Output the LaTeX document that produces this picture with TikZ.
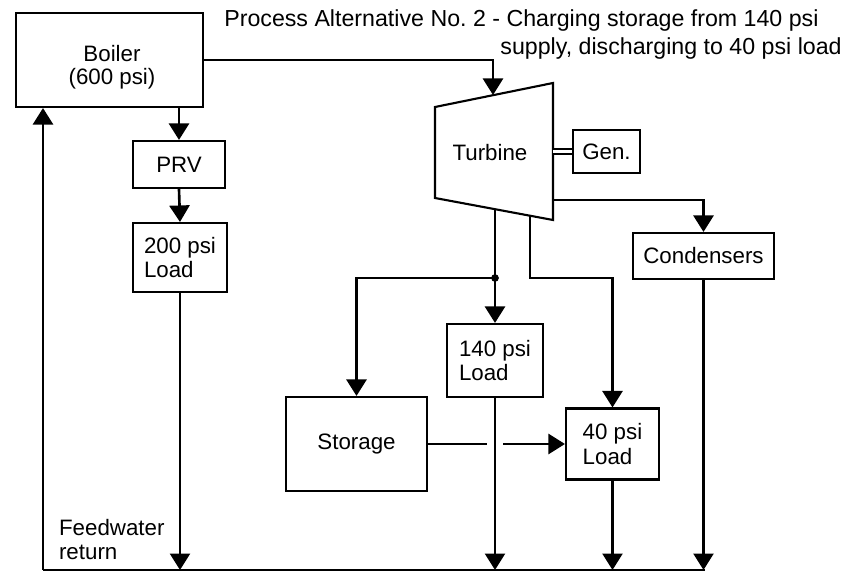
\documentclass[tikz,border=0pt]{standalone}
\usepackage{fontspec}
\setmainfont{Liberation Sans}
\usetikzlibrary{arrows.meta}

\begin{document}
\begin{tikzpicture}[x=0.02cm, y=-0.02cm, line width=1.5pt,
		box/.style={draw, line width=1.2pt, inner sep=0pt, align=left, font=\fontsize{12.7}{14}\selectfont},
		flow/.style={-{Triangle[length=0.33cm, width=0.4cm]}},
		lbl/.style={inner sep=0pt, font=\fontsize{13.2}{15}\selectfont}]
			
			\useasboundingbox (0,0) rectangle (850,574);
			
			% Title
			\node[lbl, anchor=base west] (title1) at (223,27) {Process Alternative No.\ 2 - Charging storage from 140 psi};
			\node[lbl, anchor=base east] (title2) at (843,55) {supply, discharging to 40 psi load};
			
			% Boxes
			\node[box, minimum width=3.74cm, minimum height=1.88cm] (boiler) at (109.5,60) {};
			\node[box, draw=none, align=center, font=\fontsize{12.7}{13}\selectfont] (boilertext) at (112,67) {Boiler\\(600 psi)};
			\node[box, minimum width=1.84cm, minimum height=0.94cm] (prv) at (179,164.5) {PRV};
			\node[box, minimum width=1.88cm, minimum height=1.38cm] (load200) at (180,257.5) {200 psi\\Load};
			\node[box, minimum width=1.34cm, minimum height=0.86cm] (gen) at (606.5,151.5) {Gen.};
			\node[box, minimum width=2.82cm, minimum height=0.92cm] (cond) at (703.5,256) {Condensers};
			\node[box, minimum width=1.92cm, minimum height=1.46cm] (load140) at (495,360.5) {140 psi\\Load};
			\node[box, minimum width=1.86cm, minimum height=1.42cm] (load40) at (612.5,444) {40 psi\\Load};
			\node[box, minimum width=2.82cm, minimum height=1.88cm] (storage) at (356.5,444) {Storage};
			
			% Turbine (trapezoid)
			\coordinate (t-tl) at (435,107);
			\coordinate (t-tr) at (553,83);
			\coordinate (t-br) at (553,220);
			\coordinate (t-bl) at (435,198);
			\draw[line width=1.2pt] (t-tl) -- (t-tr) -- (t-br) -- (t-bl) -- cycle;
			\node[box, draw=none] (turbine) at (490,153) {Turbine};
			
			% Points on the turbine and the pipes
			\coordinate (t-in) at (493,95);     % steam in
			\coordinate (t-gen) at (553,151.5); % shaft
			\coordinate (t-cond) at (553,200);  % exhaust
			\coordinate (t-out1) at (495,209);  % 140 psi bleed
			\coordinate (t-out2) at (530,216);  % 40 psi bleed
			\coordinate (j) at (495,278);
			\coordinate (k) at (530,278);
			\coordinate (s-gl) at (487,444);    % gap at crossing
			\coordinate (s-gr) at (503,444);
			\coordinate (fw-l) at (43,570);     % feedwater return
			\coordinate (fw-r) at (705,570);
			
			% Steam side
			\draw[flow] (boiler.east) -| (t-in);
			\draw[flow] (prv.north |- boiler.south) -- (prv.north);
			\draw[flow] (prv.south) -- (load200.north);
			\draw[double, double distance=2.2pt, line width=1pt] (t-gen) -- (gen.west);
			\draw[flow] (t-cond) -| (cond.north);
			\draw[flow] (t-out1) -- (load140.north);
			\draw[flow] (j) -| (storage.north);
			\fill (j) circle[radius=2.2pt];
			\draw[flow] (t-out2) -- (k) -| (load40.north);
			
			% Storage discharge, broken where it crosses
			\draw (storage.east) -- (s-gl);
			\draw[flow] (s-gr) -- (load40.west);
			
			% Condensate back to the boiler
			\draw (fw-l) -- (fw-r);
			\draw[flow] (fw-l) -- (fw-l |- boiler.south);
			\draw[flow] (load200.south) -- (load200.south |- fw-r);
			\draw[flow] (load140.south) -- (load140.south |- fw-r);
			\draw[flow] (load40.south) -- (load40.south |- fw-r);
			\draw[flow] (cond.south) -- (cond.south |- fw-r);
			
			% Label "Feedwater return"
			\node[box, draw=none, anchor=north west] (fwlabel) at (58,518) {Feedwater\\return};
			
		\end{tikzpicture}
\end{document}
